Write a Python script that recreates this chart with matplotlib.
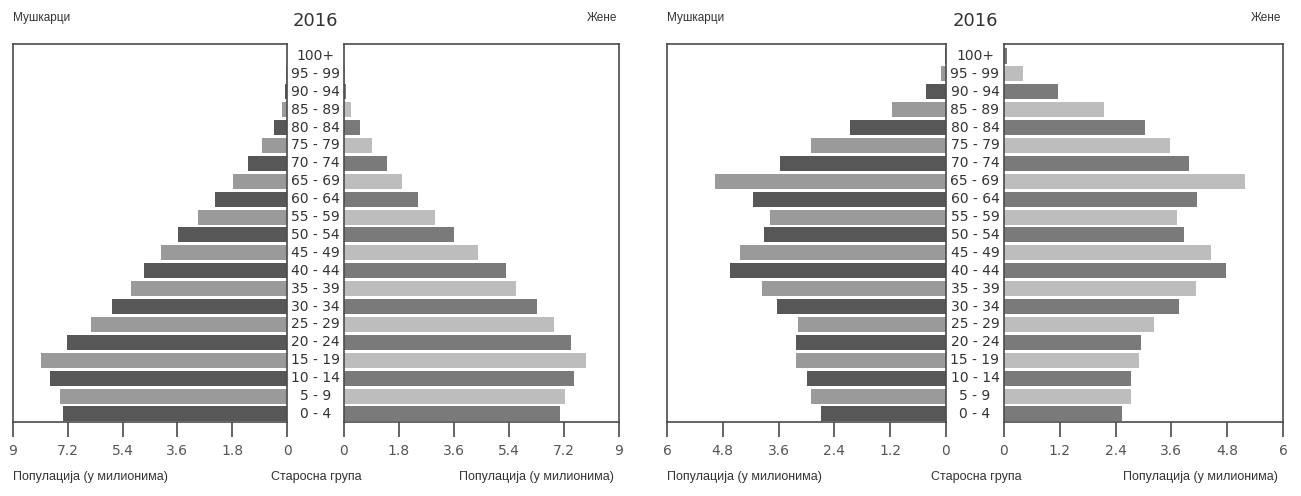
import matplotlib
matplotlib.use("Agg")
import matplotlib.pyplot as plt

age_groups = ["0 - 4", "5 - 9", "10 - 14", "15 - 19", "20 - 24", "25 - 29", "30 - 34",
              "35 - 39", "40 - 44", "45 - 49", "50 - 54", "55 - 59", "60 - 64", "65 - 69",
              "70 - 74", "75 - 79", "80 - 84", "85 - 89", "90 - 94", "95 - 99", "100+"]

# Chart 1 (left), millions
males_1 = [7.35, 7.45, 7.80, 8.08, 7.24, 6.45, 5.74, 5.11, 4.70, 4.14, 3.59,
           2.92, 2.36, 1.78, 1.29, 0.82, 0.42, 0.16, 0.08, 0.02, 0.01]
females_1 = [7.07, 7.22, 7.53, 7.92, 7.42, 6.87, 6.31, 5.64, 5.30, 4.40, 3.60,
             2.98, 2.42, 1.90, 1.41, 0.92, 0.54, 0.22, 0.08, 0.02, 0.01]
ticks_1 = [0, 1.8, 3.6, 5.4, 7.2, 9]
tick_labels_1 = ["0", "1.8", "3.6", "5.4", "7.2", "9"]

# Chart 2 (right), millions
males_2 = [2.68, 2.91, 2.98, 3.23, 3.23, 3.18, 3.63, 3.95, 4.65, 4.44, 3.92,
           3.79, 4.14, 4.97, 3.58, 2.91, 2.07, 1.16, 0.42, 0.11, 0.03]
females_2 = [2.53, 2.74, 2.74, 2.90, 2.95, 3.23, 3.76, 4.13, 4.78, 4.45, 3.88,
             3.73, 4.15, 5.18, 3.97, 3.58, 3.04, 2.16, 1.17, 0.40, 0.07]
ticks_2 = [0, 1.2, 2.4, 3.6, 4.8, 6]
tick_labels_2 = ["0", "1.2", "2.4", "3.6", "4.8", "6"]

year = "2016"
male_title = "Мушкарци"
female_title = "Жене"
pop_label = "Популација (у милионима)"
age_label = "Старосна група"

W, H = 1301, 496
fig = plt.figure(figsize=(W / 100, H / 100), dpi=100)

MALE_DARK, MALE_LIGHT = "#575757", "#9a9a9a"
FEM_DARK, FEM_LIGHT = "#7a7a7a", "#bdbdbd"
SPINE = "#4a4a4a"
y_top, y_bot = 44, 422


def px_axes(x0, x1):
    return fig.add_axes([x0 / W, 1 - y_bot / H, (x1 - x0) / W, (y_bot - y_top) / H])


def style(ax, ticks, labels, xmax, invert):
    ax.set_xlim(0, xmax)
    if invert:
        ax.invert_xaxis()
    ax.set_ylim(-0.45, 20.67)
    ax.set_yticks([])
    ax.set_xticks(ticks)
    ax.set_xticklabels(labels, fontsize=10, color="#555555", family="DejaVu Sans")
    ax.tick_params(axis="x", direction="out", length=11, width=1.2, color=SPINE, pad=5)
    for s in ax.spines.values():
        s.set_color(SPINE)
        s.set_linewidth(1.2)


def draw(xm0, xm1, xf0, xf1, males, females, ticks, labels, xmax):
    axm = px_axes(xm0, xm1)
    axf = px_axes(xf0, xf1)
    y = list(range(len(age_groups)))
    mcol = [MALE_DARK if i % 2 == 0 else MALE_LIGHT for i in y]
    fcol = [FEM_DARK if i % 2 == 0 else FEM_LIGHT for i in y]
    axm.barh(y, males, height=0.84, color=mcol, edgecolor="none")
    axf.barh(y, females, height=0.84, color=fcol, edgecolor="none")
    style(axm, ticks, labels, xmax, True)
    style(axf, ticks, labels, xmax, False)
    # age labels between panels
    xc = (xm1 + xf0) / 2
    for i, lab in enumerate(age_groups):
        yy = axm.transData.transform((0, i))[1]
        fig.text(xc / W, yy / H, lab, ha="center", va="center", fontsize=10,
                 color="#333333", family="DejaVu Sans")
    # titles
    fig.text(xm0 / W, 1 - 18 / H, male_title, ha="left", va="center", fontsize=8.5,
             color="#333333", family="Liberation Sans")
    fig.text(xc / W, 1 - 21 / H, year, ha="center", va="center", fontsize=13,
             color="#333333", family="DejaVu Sans")
    fig.text((xf1 - 2) / W, 1 - 18 / H, female_title, ha="right", va="center", fontsize=8.5,
             color="#333333", family="Liberation Sans")
    fig.text(xm0 / W, 1 - 477 / H, pop_label, ha="left", va="center", fontsize=9,
             color="#333333", family="Liberation Sans")
    fig.text((xc + 1) / W, 1 - 477 / H, age_label, ha="center", va="center", fontsize=9,
             color="#333333", family="Liberation Sans")
    fig.text((xf1 - 5) / W, 1 - 477 / H, pop_label, ha="right", va="center", fontsize=9,
             color="#333333", family="Liberation Sans")


draw(13, 287, 344, 619, males_1, females_1, ticks_1, tick_labels_1, 9)
draw(667, 946, 1004, 1283, males_2, females_2, ticks_2, tick_labels_2, 6)

fig.savefig("out.png", dpi=100, facecolor="white")
